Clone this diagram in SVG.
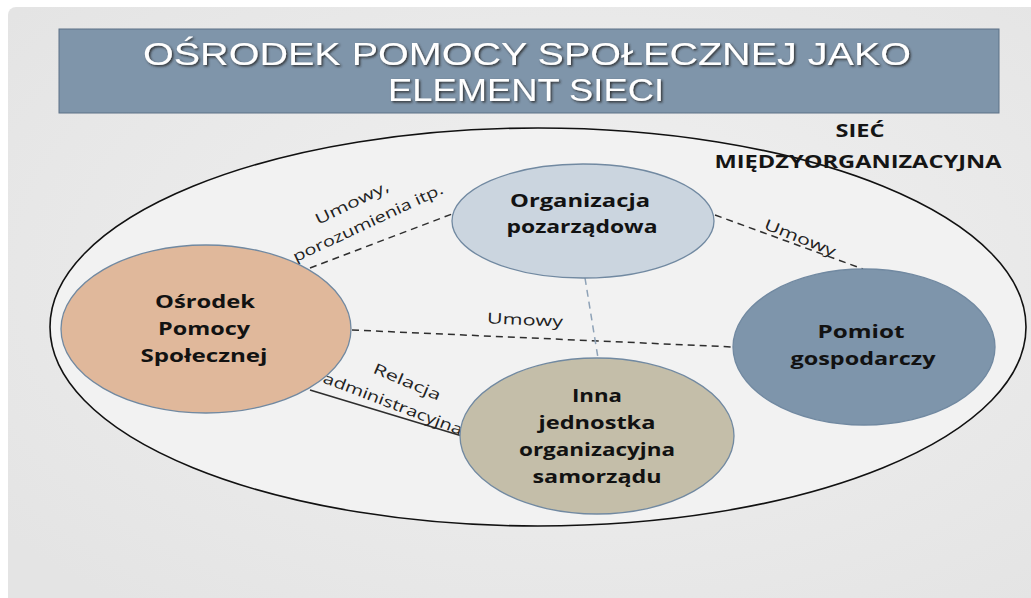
<svg xmlns="http://www.w3.org/2000/svg" width="1031" height="598" viewBox="0 0 1031 598">
<defs>
<radialGradient id="bg" cx="0.55" cy="0.45" r="0.7">
<stop offset="0" stop-color="#f1f1f1"/>
<stop offset="1" stop-color="#e4e4e4"/>
</radialGradient>
<filter id="shadow" x="-5%" y="-20%" width="110%" height="140%">
<feDropShadow dx="1.5" dy="1.5" stdDeviation="0.8" flood-color="#2a2a2a" flood-opacity="0.9"/>
</filter>
</defs>
<style>
.title{font-family:"Liberation Sans",Arial,sans-serif;font-size:31px;fill:#ffffff;text-anchor:middle;filter:url(#shadow)}
.node{stroke:#7189a1;stroke-width:1.3}
.nt{font-family:"Open Sans","Liberation Sans",sans-serif;font-weight:700;font-size:18px;fill:#121212;text-anchor:middle}
.lbl{font-family:"Open Sans","Liberation Sans",sans-serif;font-size:15px;fill:#222;text-anchor:middle}
.dash{stroke:#2e2e2e;stroke-width:1.5;stroke-dasharray:7 5;fill:none}
.dashb{stroke:#8ea2b7;stroke-width:1.5;stroke-dasharray:7 5;fill:none}
.solid{stroke:#2e2e2e;stroke-width:1.6;fill:none}
.net{font-family:"Open Sans","Liberation Sans",sans-serif;font-weight:700;font-size:17px;fill:#151515;text-anchor:middle}
</style>
<rect x="0" y="0" width="1031" height="598" fill="#ffffff"/>
<rect x="8" y="7" width="1030" height="600" rx="8" fill="url(#bg)"/>

<g id="title">
<rect x="59" y="29" width="940" height="84" fill="#7f95aa" stroke="#5d7186" stroke-width="1"/>
<text class="title" x="527" y="65" textLength="768" lengthAdjust="spacingAndGlyphs">OŚRODEK POMOCY SPOŁECZNEJ JAKO</text>
<text class="title" x="526" y="101" textLength="276" lengthAdjust="spacingAndGlyphs">ELEMENT SIECI</text>
</g>

<g id="network">
<ellipse cx="538" cy="327" rx="488" ry="199" fill="#f2f2f2" stroke="#111" stroke-width="1.6"/>
<text class="net" x="860" y="137" textLength="49" lengthAdjust="spacingAndGlyphs">SIEĆ</text>
<text class="net" x="858" y="168" textLength="287" lengthAdjust="spacingAndGlyphs">MIĘDZYORGANIZACYJNA</text>
</g>

<g id="connectors">
<line class="dash" x1="310" y1="268" x2="452" y2="214"/>
<line class="dash" x1="715" y1="215" x2="863" y2="269"/>
<line class="dash" x1="352" y1="330" x2="733" y2="347"/>
<line class="dashb" x1="585" y1="278" x2="598" y2="358"/>
<line class="solid" x1="310" y1="390" x2="462" y2="436"/>
<text class="lbl" transform="translate(352,203) rotate(-26)" y="5" textLength="80" lengthAdjust="spacingAndGlyphs">Umowy,</text>
<text class="lbl" transform="translate(368,223) rotate(-25)" y="5" textLength="164" lengthAdjust="spacingAndGlyphs">porozumienia itp.</text>
<text class="lbl" transform="translate(800,238) rotate(22)" y="5" textLength="76" lengthAdjust="spacingAndGlyphs">Umowy</text>
<text class="lbl" transform="translate(525,320) rotate(2.5)" y="5" textLength="76" lengthAdjust="spacingAndGlyphs">Umowy</text>
<text class="lbl" transform="translate(407,382) rotate(23)" y="5" textLength="72" lengthAdjust="spacingAndGlyphs">Relacja</text>
<text class="lbl" transform="translate(393,404) rotate(21)" y="5" textLength="148" lengthAdjust="spacingAndGlyphs">administracyjna</text>
</g>

<g id="node-osrodek">
<ellipse class="node" cx="206" cy="329" rx="145" ry="84" fill="#e0b89b"/>
<text class="nt" x="205" y="308" textLength="100" lengthAdjust="spacingAndGlyphs">Ośrodek</text>
<text class="nt" x="204" y="335" textLength="92" lengthAdjust="spacingAndGlyphs">Pomocy</text>
<text class="nt" x="204" y="362" textLength="127" lengthAdjust="spacingAndGlyphs">Społecznej</text>
</g>

<g id="node-organizacja">
<ellipse class="node" cx="583" cy="221" rx="131" ry="57" fill="#cbd5df"/>
<text class="nt" x="580" y="207" textLength="140" lengthAdjust="spacingAndGlyphs">Organizacja</text>
<text class="nt" x="582" y="233" textLength="151" lengthAdjust="spacingAndGlyphs">pozarządowa</text>
</g>

<g id="node-pomiot">
<ellipse class="node" cx="864" cy="347" rx="131" ry="78" fill="#7e95ab"/>
<text class="nt" x="861" y="338" textLength="87" lengthAdjust="spacingAndGlyphs">Pomiot</text>
<text class="nt" x="863" y="365" textLength="145" lengthAdjust="spacingAndGlyphs">gospodarczy</text>
</g>

<g id="node-inna">
<ellipse class="node" cx="597" cy="436" rx="137" ry="78" fill="#c4bea9"/>
<text class="nt" x="597" y="402" textLength="50" lengthAdjust="spacingAndGlyphs">Inna</text>
<text class="nt" x="597" y="429" textLength="117" lengthAdjust="spacingAndGlyphs">jednostka</text>
<text class="nt" x="597" y="456" textLength="156" lengthAdjust="spacingAndGlyphs">organizacyjna</text>
<text class="nt" x="597" y="483" textLength="129" lengthAdjust="spacingAndGlyphs">samorządu</text>
</g>
</svg>
